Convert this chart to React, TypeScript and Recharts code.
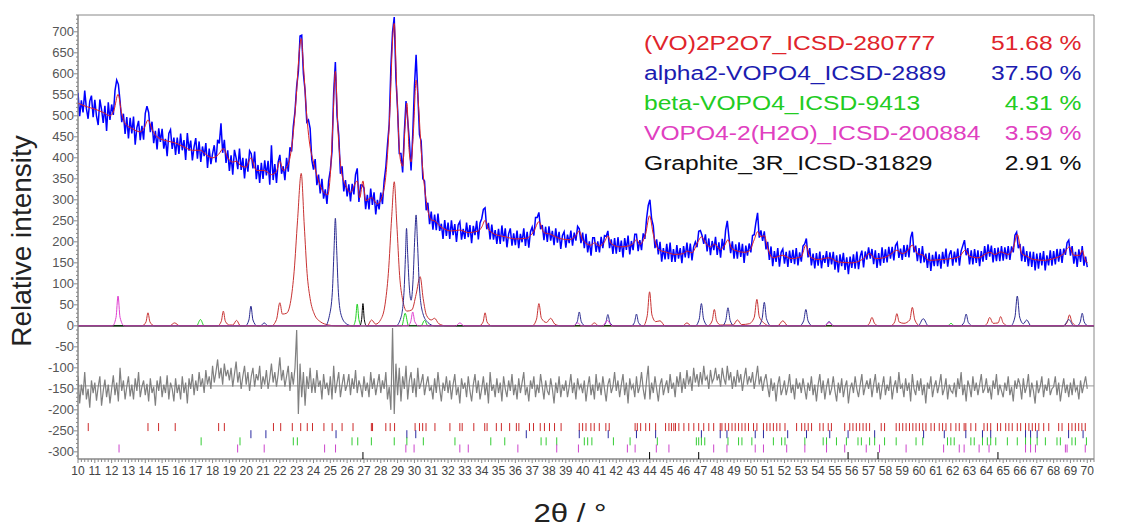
import React from "react";
import { ComposedChart, Line, Scatter, XAxis, YAxis, ReferenceLine, ReferenceArea } from "recharts";

// scan grid of the observed and difference arrays: 10° .. 70°, 0.1° step
const SCAN_START = 10;
const SCAN_STEP = 0.1;

// observed intensity, one row per degree (10.0 .. 10.9, 11.0 .. 11.9, ...)
const observed = [
  555, 499, 537, 508, 560, 517, 493, 535, 548, 497,
  538, 499, 478, 539, 515, 483, 524, 464, 532, 490,
  527, 502, 560, 585, 575, 535, 485, 505, 457, 497,
  446, 495, 458, 498, 431, 472, 488, 442, 476, 443,
  506, 523, 508, 461, 486, 435, 464, 420, 470, 438,
  469, 422, 445, 404, 458, 467, 421, 448, 407, 448,
  409, 458, 418, 442, 395, 459, 417, 441, 394, 426,
  447, 398, 439, 390, 427, 404, 435, 376, 422, 385,
  410, 430, 389, 443, 434, 482, 412, 443, 388, 418,
  369, 406, 360, 419, 400, 373, 422, 371, 400, 351,
  398, 367, 417, 410, 375, 415, 349, 383, 340, 388,
  350, 394, 358, 393, 336, 430, 347, 385, 340, 390,
  407, 362, 380, 347, 400, 367, 425, 415, 475, 510,
  570, 605, 690, 692, 600, 560, 485, 490, 470, 395,
  372, 397, 335, 360, 315, 350, 303, 325, 290, 345,
  370, 415, 555, 628, 500, 455, 362, 380, 320, 347,
  308, 337, 296, 338, 313, 360, 375, 295, 335, 335,
  328, 278, 312, 277, 327, 288, 318, 265, 300, 277,
  317, 290, 345, 378, 432, 480, 615, 700, 735, 590,
  515, 410, 410, 365, 460, 535, 490, 440, 370, 455,
  570, 645, 555, 455, 440, 350, 345, 275, 293, 242,
  272, 229, 265, 228, 267, 226, 243, 207, 252, 214,
  246, 207, 251, 216, 242, 200, 240, 248, 205, 231,
  207, 246, 211, 240, 197, 238, 216, 250, 206, 245,
  255, 277, 281, 230, 245, 206, 241, 205, 228, 195,
  231, 195, 239, 201, 232, 187, 219, 232, 191, 220,
  192, 227, 185, 219, 199, 232, 190, 224, 186, 224,
  235, 215, 258, 258, 270, 230, 240, 204, 236, 200,
  237, 203, 226, 192, 232, 198, 224, 183, 215, 224,
  186, 217, 197, 227, 191, 222, 203, 237, 231, 197,
  222, 185, 219, 175, 201, 167, 210, 210, 176, 201,
  175, 212, 185, 215, 213, 226, 185, 206, 171, 209,
  172, 211, 176, 203, 163, 209, 181, 215, 170, 202,
  180, 218, 218, 178, 204, 180, 220, 207, 255, 287,
  300, 255, 238, 185, 206, 170, 200, 153, 185, 158,
  195, 159, 198, 152, 183, 152, 192, 160, 185, 149,
  190, 163, 198, 161, 196, 156, 188, 200, 187, 225,
  227, 215, 195, 218, 177, 208, 168, 202, 180, 212,
  169, 199, 162, 207, 180, 228, 250, 210, 173, 201,
  160, 194, 160, 199, 164, 195, 150, 191, 167, 196,
  175, 215, 217, 246, 269, 210, 227, 202, 225, 182,
  200, 157, 189, 142, 178, 152, 185, 141, 175, 183,
  148, 176, 140, 179, 150, 181, 147, 185, 144, 175,
  153, 190, 195, 208, 163, 185, 144, 172, 137, 173,
  143, 177, 137, 168, 150, 178, 140, 175, 146, 176,
  134, 168, 127, 170, 142, 174, 133, 163, 123, 165,
  138, 170, 136, 177, 135, 165, 179, 139, 177, 158,
  187, 160, 183, 147, 180, 138, 173, 143, 187, 150,
  182, 151, 188, 160, 188, 156, 191, 198, 162, 184,
  157, 192, 164, 193, 163, 210, 224, 175, 191, 154,
  185, 149, 190, 151, 172, 138, 174, 131, 169, 142,
  177, 142, 170, 136, 176, 148, 184, 141, 170, 180,
  143, 177, 151, 184, 143, 178, 191, 204, 168, 185,
  146, 180, 146, 183, 150, 180, 142, 178, 153, 190,
  157, 194, 165, 191, 151, 185, 154, 186, 154, 190,
  155, 187, 159, 190, 157, 189, 175, 216, 223, 185,
  195, 154, 189, 152, 178, 142, 177, 140, 176, 132,
  172, 136, 174, 144, 178, 132, 168, 144, 180, 143,
  178, 146, 183, 153, 183, 150, 184, 169, 198, 204,
  167, 190, 148, 176, 140, 182, 152, 190, 143, 165,
  140,
];

// difference curve (obs - calc, shifted down), same grid
const difference = [
  -120, -185, -140, -165, -110, -175, -150, -195, -130, -160,
  -135, -178, -145, -120, -190, -155, -128, -170, -140, -185,
  -150, -118, -165, -135, -180, -100, -155, -130, -175, -145,
  -120, -168, -140, -175, -125, -155, -110, -170, -145, -130,
  -165, -138, -180, -125, -160, -145, -190, -130, -155, -120,
  -170, -140, -160, -118, -175, -135, -150, -180, -125, -160,
  -140, -175, -120, -160, -135, -185, -125, -150, -115, -165,
  -130, -155, -110, -145, -125, -160, -105, -140, -120, -150,
  -95, -135, -110, -80, -125, -100, -140, -90, -120, -105,
  -130, -100, -145, -115, -85, -135, -110, -150, -120, -95,
  -140, -110, -155, -120, -100, -145, -115, -130, -95, -150,
  -120, -140, -105, -150, -125, -90, -135, -110, -145, -115,
  -75, -130, -105, -145, -120, -95, -155, -110, -140, -100,
  -10, -210, -90, -170, -110, -190, -120, -150, -100, -160,
  -125, -160, -105, -145, -130, -175, -115, -150, -135, -165,
  -120, -175, -95, -160, -135, -110, -170, -140, -115, -155,
  -140, -115, -165, -125, -150, -105, -160, -130, -145, -170,
  -120, -155, -135, -170, -110, -150, -125, -165, -140, -115,
  -160, -130, -150, -110, -175, -145, -200, -5, -210, -90,
  -165, -100, -180, -120, -150, -95, -175, -130, -110, -160,
  -125, -170, -100, -150, -135, -115, -165, -140, -120, -155,
  -145, -175, -125, -160, -110, -150, -180, -135, -155, -120,
  -160, -130, -175, -140, -115, -165, -145, -185, -125, -150,
  -135, -170, -120, -155, -180, -140, -115, -160, -130, -175,
  -150, -120, -165, -135, -185, -110, -155, -140, -170, -125,
  -160, -135, -180, -120, -150, -170, -130, -155, -115, -165,
  -140, -175, -125, -160, -135, -110, -165, -145, -180, -130,
  -150, -120, -170, -140, -160, -115, -145, -175, -130, -155,
  -165, -125, -150, -185, -135, -160, -120, -170, -140, -155,
  -130, -170, -145, -115, -160, -135, -175, -125, -150, -140,
  -160, -130, -180, -145, -120, -165, -140, -175, -115, -155,
  -135, -165, -120, -150, -180, -140, -125, -160, -145, -110,
  -155, -130, -170, -140, -115, -165, -135, -185, -125, -150,
  -140, -170, -120, -160, -145, -110, -150, -175, -130, -95,
  -175, -135, -160, -120, -150, -180, -140, -125, -165, -145,
  -130, -160, -115, -150, -135, -170, -120, -145, -110, -160,
  -125, -150, -105, -140, -120, -155, -100, -135, -115, -145,
  -110, -140, -95, -130, -120, -150, -105, -135, -125, -100,
  -130, -115, -145, -100, -125, -140, -95, -130, -110, -150,
  -120, -145, -105, -135, -115, -155, -125, -100, -140, -120,
  -135, -110, -150, -125, -95, -140, -120, -155, -130, -115,
  -145, -170, -125, -155, -135, -180, -140, -120, -165, -150,
  -130, -165, -145, -115, -160, -140, -175, -125, -150, -135,
  -160, -125, -150, -175, -135, -155, -120, -165, -140, -180,
  -140, -115, -160, -130, -175, -145, -125, -165, -150, -120,
  -155, -180, -135, -160, -125, -170, -145, -130, -185, -150,
  -135, -160, -120, -150, -170, -140, -115, -165, -145, -130,
  -150, -125, -170, -140, -115, -160, -135, -175, -145, -120,
  -165, -140, -155, -120, -175, -145, -130, -160, -110, -150,
  -140, -170, -125, -155, -135, -180, -115, -150, -165, -130,
  -155, -125, -165, -140, -185, -135, -150, -120, -170, -145,
  -130, -160, -140, -115, -165, -150, -125, -175, -140, -155,
  -160, -135, -170, -125, -150, -110, -165, -140, -180, -130,
  -145, -170, -120, -155, -135, -165, -140, -115, -160, -150,
  -125, -160, -145, -175, -130, -150, -115, -165, -140, -155,
  -170, -135, -155, -120, -165, -145, -180, -130, -150, -125,
  -140, -175, -125, -160, -145, -115, -170, -135, -155, -185,
  -130, -160, -145, -120, -170, -140, -155, -125, -165, -150,
  -145, -120, -165, -135, -180, -150, -125, -160, -140, -170,
  -135, -165, -125, -155, -145, -175, -130, -160, -140, -120,
  -150,
];

// calculated profile [2theta, intensity]
const calculated: [number, number][] = [
  [10, 530], [10.5, 522], [11, 516], [11.5, 508], [11.9, 500], [12.15, 515], [12.38, 551], [12.6, 505],
  [12.8, 482], [13.2, 470], [13.7, 462], [13.95, 472], [14.16, 490], [14.4, 468], [14.7, 450], [15.3, 440],
  [15.74, 436], [16.2, 428], [16.8, 418], [17.28, 418], [17.6, 408], [18, 400], [18.35, 408], [18.64, 422],
  [18.9, 400], [19.2, 390], [19.43, 392], [19.7, 380], [20, 378], [20.28, 400], [20.6, 370], [21.07, 370],
  [21.5, 360], [21.8, 368], [22, 392], [22.2, 370], [22.5, 385], [22.8, 460], [23, 560], [23.15, 650],
  [23.27, 684], [23.4, 620], [23.6, 500], [23.75, 440], [24, 390], [24.3, 345], [24.6, 318], [24.85, 312],
  [25, 360], [25.15, 480], [25.3, 606], [25.45, 470], [25.65, 370], [25.9, 335], [26.2, 318], [26.6, 345],
  [26.75, 305], [26.94, 345], [27.1, 298], [27.45, 305], [27.8, 290], [28.1, 310], [28.35, 380], [28.55, 520],
  [28.7, 680], [28.8, 720], [28.95, 560], [29.15, 400], [29.3, 380], [29.45, 480], [29.55, 530], [29.68, 420],
  [29.8, 390], [29.95, 470], [30.1, 585], [30.25, 520], [30.4, 420], [30.6, 330], [30.8, 275], [31, 252],
  [31.2, 250], [31.5, 238], [31.8, 230], [32.2, 226], [32.7, 228], [33.2, 222], [33.8, 226], [34, 235],
  [34.2, 251], [34.4, 230], [34.8, 218], [35.4, 212], [36, 207], [36.6, 208], [37.1, 225], [37.4, 248],
  [37.7, 222], [38.1, 218], [38.5, 210], [39.2, 205], [39.6, 215], [39.8, 226], [40, 204], [40.5, 192],
  [40.7, 198], [41, 190], [41.3, 200], [41.5, 214], [41.7, 196], [42.2, 188], [42.7, 190], [43.05, 198],
  [43.2, 206], [43.4, 194], [43.75, 220], [43.98, 262], [44.2, 218], [44.5, 182], [45, 175], [45.5, 170],
  [46, 172], [46.2, 178], [46.5, 174], [46.85, 200], [47.06, 212], [47.35, 195], [47.6, 188], [47.83, 195],
  [48.2, 182], [48.45, 192], [48.64, 205], [48.85, 185], [49.2, 178], [49.6, 175], [49.9, 178], [50.2, 205],
  [50.4, 224], [50.6, 212], [50.8, 215], [51, 185], [51.3, 162], [51.9, 168], [52.4, 160], [53, 165],
  [53.27, 192], [53.5, 165], [54, 158], [54.65, 162], [55.2, 152], [56, 150], [56.7, 160], [57.05, 172],
  [57.4, 160], [57.9, 162], [58.3, 170], [58.68, 180], [59, 172], [59.3, 178], [59.6, 192], [59.9, 172],
  [60.25, 168], [60.6, 156], [61.4, 158], [61.9, 160], [62.4, 165], [62.75, 180], [63, 166], [63.5, 162],
  [64.2, 175], [64.5, 170], [64.85, 176], [65.3, 170], [65.6, 185], [65.84, 218], [66.1, 172], [66.4, 166],
  [66.8, 158], [67.4, 156], [68, 160], [68.6, 172], [68.94, 188], [69.2, 168], [69.55, 168], [69.7, 180],
  [69.85, 160], [70, 150],
];

// individual phase contributions [2theta, intensity]
const phaseVO2P2O7: [number, number][] = [
  [10, 0], [13.8, 0], [14.04, 9], [14.16, 31], [14.28, 9], [14.55, 0], [15.45, 0], [15.74, 7], [16.05, 0],
  [18.3, 0], [18.52, 11], [18.64, 35], [18.76, 11], [19, 2], [19.2, 2], [19.43, 13], [19.65, 0],
  [21.5, 0], [21.8, 15], [22, 55], [22.15, 28], [22.4, 30], [22.65, 60], [22.85, 130], [23.05, 250],
  [23.27, 363], [23.45, 240], [23.62, 125], [23.8, 65], [24.05, 28], [24.4, 10], [24.9, 2], [25.3, 0],
  [27.2, 0], [27.45, 14], [27.7, 4], [28, 15], [28.25, 50], [28.45, 125], [28.65, 260], [28.8, 343],
  [28.95, 245], [29.12, 120], [29.3, 62], [29.55, 35], [29.85, 38], [30.1, 75], [30.34, 117], [30.52, 65],
  [30.72, 25], [31, 14], [31.2, 18], [31.45, 5], [31.9, 0],
  [33.85, 0], [34.08, 9], [34.2, 31], [34.32, 9], [34.6, 0],
  [37, 0], [37.26, 16], [37.4, 53], [37.55, 18], [37.85, 8], [38.1, 18], [38.35, 4], [38.7, 0],
  [40.45, 0], [40.7, 7], [40.95, 0],
  [43.6, 0], [43.84, 24], [43.98, 81], [44.12, 26], [44.35, 10], [44.6, 12], [44.9, 0],
  [45.95, 0], [46.2, 7], [46.45, 0],
  [47.45, 0], [47.7, 12], [47.83, 39], [47.96, 12], [48.2, 2],
  [48.95, 2], [49.2, 14], [49.45, 3], [49.9, 5], [50.2, 20], [50.36, 63], [50.5, 22], [50.8, 6], [51.1, 0],
  [51.6, 0], [51.9, 12], [52.2, 0],
  [56.85, 0], [57.05, 6], [57.2, 20], [57.35, 6], [57.6, 0],
  [58.3, 0], [58.55, 9], [58.68, 29], [58.82, 9], [59.1, 6], [59.45, 14], [59.6, 44], [59.75, 14], [60.05, 0],
  [63.85, 0], [64.05, 6], [64.2, 20], [64.4, 6], [64.7, 7], [64.85, 22], [65, 7], [65.3, 0],
  [68.55, 0], [68.8, 8], [68.94, 26], [69.1, 8], [69.4, 0], [70.4, 0],
];

const phaseAlpha2: [number, number][] = [
  [10, 0], [19.95, 0], [20.16, 14], [20.28, 47], [20.4, 14], [20.65, 0], [20.85, 0], [21.07, 7], [21.3, 0],
  [24.7, 0], [24.95, 25], [25.12, 80], [25.22, 180], [25.3, 256], [25.38, 180], [25.48, 80], [25.65, 25],
  [25.95, 5], [26.3, 0],
  [28.9, 0], [29.2, 20], [29.38, 80], [29.47, 170], [29.53, 232], [29.6, 170], [29.7, 90], [29.8, 61],
  [29.92, 110], [30.02, 210], [30.1, 264], [30.18, 200], [30.3, 90], [30.5, 30], [30.8, 8], [31.2, 0],
  [39.45, 0], [39.68, 10], [39.8, 33], [39.92, 10], [40.15, 0],
  [41.2, 0], [41.38, 8], [41.5, 27], [41.62, 8], [41.85, 0],
  [42.9, 0], [43.08, 8], [43.2, 28], [43.32, 8], [43.55, 0],
  [46.7, 0], [46.93, 16], [47.06, 53], [47.19, 16], [47.45, 0],
  [48.3, 0], [48.51, 13], [48.64, 43], [48.77, 13], [49, 0],
  [50.45, 0], [50.67, 17], [50.8, 56], [50.93, 17], [51.2, 0],
  [52.9, 0], [53.14, 12], [53.27, 39], [53.4, 12], [53.65, 0],
  [54.4, 0], [54.65, 10], [54.9, 0],
  [59.95, 0], [60.25, 17], [60.55, 0],
  [62.45, 0], [62.67, 8], [62.8, 28], [62.93, 8], [63.2, 0],
  [65.45, 0], [65.7, 21], [65.84, 71], [65.98, 21], [66.2, 5], [66.4, 14], [66.65, 0],
  [68.6, 0], [68.9, 15], [69.2, 0],
  [69.4, 0], [69.58, 9], [69.7, 30], [69.82, 9], [70.05, 0], [70.4, 0],
];

const phaseBeta: [number, number][] = [
  [10, 0], [17.05, 0], [17.28, 15], [17.5, 0],
  [26.35, 0], [26.5, 15], [26.6, 52], [26.7, 15], [26.85, 0],
  [29.25, 0], [29.45, 30], [29.65, 0],
  [30.4, 0], [30.6, 13], [30.8, 0],
  [61.7, 0], [61.9, 6], [62.1, 0], [70.4, 0],
];

const phaseDihydrate: [number, number][] = [
  [10, 0], [12.05, 0], [12.26, 20], [12.38, 71], [12.5, 20], [12.75, 0],
  [29.6, 0], [29.78, 10], [29.9, 33], [30.02, 10], [30.25, 0],
  [32.45, 0], [32.7, 7], [32.95, 0],
  [39.45, 0], [39.7, 7], [39.95, 0],
  [41.2, 0], [41.47, 13], [41.75, 0],
  [54.4, 0], [54.65, 8], [54.9, 0], [70.4, 0],
];

const phaseGraphite: [number, number][] = [
  [10, 0], [26.75, 0], [26.86, 15], [26.94, 53], [27.02, 15], [27.15, 0], [70.4, 0],
];

// reflection positions (2theta) for each phase
const reflVO2P2O7 = [
  10.61, 14.16, 14.79, 15.78, 18.36, 18.7, 21.62, 22.05, 22.74, 23.24, 23.63, 23.94, 24.62, 25.11, 25.7,
  26.35, 27.44, 27.51, 28.3, 28.56, 28.82, 30.04, 30.3, 30.49, 30.69, 31.22, 32.11, 32.7, 32.84, 33.53,
  34.18, 34.32, 34.87, 35.17, 35.66, 36.06, 36.21, 36.84, 37.08, 37.48, 37.73, 38.03, 38.33, 38.72, 39.8,
  40.0, 40.2, 40.49, 40.69, 40.99, 41.38, 41.58, 43.12, 43.25, 43.45, 43.75, 43.98, 44.34, 44.93, 45.13,
  45.28, 45.42, 45.52, 45.72, 46.02, 46.31, 46.61, 46.9, 47.2, 47.5, 47.79, 48.18, 48.28, 48.48, 48.68,
  48.88, 49.07, 49.27, 49.47, 49.66, 49.86, 50.16, 50.36, 50.75, 50.95, 51.14, 51.34, 51.54, 51.73, 52.03,
  52.72, 53.02, 53.21, 53.41, 53.61, 54.1, 54.3, 54.6, 54.79, 55.58, 55.88, 56.07, 56.27, 56.47, 56.67,
  56.86, 57.06, 57.75, 57.95, 58.64, 58.83, 59.03, 59.23, 59.43, 59.63, 59.82, 60.02, 60.22, 60.41, 60.71,
  60.91, 61.2, 61.4, 61.6, 61.89, 62.19, 62.39, 62.68, 62.78, 63.08, 63.37, 63.86, 64.06, 64.26, 64.66,
  64.85, 65.15, 65.34, 65.54, 65.84, 66.04, 66.33, 66.53, 66.73, 66.92, 67.12, 67.41, 67.71, 68.3, 68.5,
  68.89, 69.09, 69.29, 69.49, 69.68, 69.88,
];
const reflAlpha2 = [
  20.28, 21.17, 25.34, 29.55, 30.08, 36.65, 39.8, 41.52, 43.2, 44.34, 47.06, 48.18, 48.58, 50.26, 50.75,
  52.19, 53.31, 54.69, 55.78, 57.36, 60.27, 61.5, 62.78, 63.77, 64.26, 66.33, 66.63, 67.02, 68.89, 69.75,
];
const reflBeta = [
  17.32, 19.63, 22.8, 23.04, 26.29, 26.63, 27.44, 28.8, 29.55, 30.53, 32.41, 34.54, 35.37, 37.53, 37.83,
  38.46, 40.1, 40.3, 40.55, 41.83, 42.82, 44.44, 46.76, 46.9, 47.06, 47.26, 48.64, 49.27, 49.47, 50.06,
  51.34, 51.83, 52.03, 53.21, 54.3, 54.5, 55.09, 55.68, 56.37, 56.57, 57.06, 57.36, 57.95, 58.64, 59.82,
  60.22, 61.69, 61.89, 62.09, 63.08, 63.28, 63.77, 64.06, 64.26, 64.56, 65.25, 65.84, 66.33, 66.63, 67.02,
  67.51, 68.2, 68.4, 69.09, 69.29, 69.95,
];
const reflDihydrate = [
  12.44, 19.49, 21.07, 24.66, 25.31, 29.49, 29.98, 32.7, 33.2, 36.15, 38.46, 39.75, 42.66, 43.12, 44.38,
  45.13, 47.79, 48.58, 50.26, 50.75, 52.13, 53.21, 54.5, 55.58, 56.86, 57.65, 59.23, 61.46, 62.39, 62.68,
  63.57, 64.16, 66.33, 66.63, 66.92, 68.7, 68.8, 69.88,
];
const reflGraphite = [26.94, 43.98, 46.9, 55.78, 57.56, 64.69];

// intensity level of each reflection row
const reflLevels = [-241, -258, -275, -292, -310];

const phaseNames = [
  "(VO)2P2O7_ICSD-280777",
  "alpha2-VOPO4_ICSD-2889",
  "beta-VOPO4_ICSD-9413",
  "VOPO4-2(H2O)_ICSD-200884",
  "Graphite_3R_ICSD-31829",
];
const phaseShares = ["51.68 %", "37.50 %", "4.31 %", "3.59 %", "2.91 %"];
const legendColors = ["#e0242b", "#1c1cb0", "#22cc22", "#e040c0", "#111111"];

const xLabels = [
  10, 11, 12, 13, 14, 15, 16, 17, 18, 19, 20, 21, 22, 23, 24, 25, 26, 27, 28, 29, 30, 31, 32, 33, 34, 35, 36,
  37, 38, 39, 40, 41, 42, 43, 44, 45, 46, 47, 48, 49, 50, 51, 52, 53, 54, 55, 56, 57, 58, 59, 60, 61, 62, 63,
  64, 65, 66, 67, 68, 69, 70,
];
const yLabels = [-300, -250, -200, -150, -100, -50, 0, 50, 100, 150, 200, 250, 300, 350, 400, 450, 500, 550, 600, 650, 700];

const X_DOMAIN: [number, number] = [10, 70.4];
const Y_DOMAIN: [number, number] = [-317, 740];
const FONT = "'Liberation Sans', Arial, sans-serif";

const toPoints = (pairs: [number, number][]) => pairs.map(([x, y]) => ({ x, y }));
const scanPoints = (vals: number[]) =>
  vals.map((y, i) => ({ x: Math.round((SCAN_START + i * SCAN_STEP) * 100) / 100, y }));

const obsData = scanPoints(observed);
const diffData = scanPoints(difference);
const calcData = toPoints(calculated);

// minor tick positions (decoration only)
const xMinor: number[] = [];
for (let v = 100; v <= 704; v += 2) xMinor.push(v / 10);
const yMinor: number[] = [];
for (let v = -310; v <= 740; v += 10) yMinor.push(v);

function XTick(props: any) {
  const { x, y, payload } = props;
  const v = payload.value as number;
  const isLabel = xLabels.some((l) => Math.abs(l - v) < 1e-6);
  return (
    <g>
      <line x1={x} x2={x} y1={y} y2={y + (isLabel ? 4 : 3)} stroke="#888" />
      {isLabel && (
        <text x={x} y={y + 16} textAnchor="middle" fontSize={12} fontFamily={FONT} fill="#444">
          {v}
        </text>
      )}
    </g>
  );
}

function YTick(props: any) {
  const { x, y, payload } = props;
  const v = payload.value as number;
  const isLabel = yLabels.includes(v);
  return (
    <g>
      <line x1={x - (isLabel ? 4 : 2)} x2={x} y1={y} y2={y} stroke="#888" />
      {isLabel && (
        <text x={x - 4} y={y + 4.5} textAnchor="end" fontSize={13} fontFamily={FONT} fill="#555">
          {v}
        </text>
      )}
    </g>
  );
}

const reflShape = (color: string) => (p: any) =>
  <line x1={p.cx} x2={p.cx} y1={p.cy - 4} y2={p.cy + 4} stroke={color} strokeWidth={1} />;

const reflRows = [
  { pos: reflVO2P2O7, color: "#cc2a2a" },
  { pos: reflAlpha2, color: "#2a2aa0" },
  { pos: reflBeta, color: "#33cc33" },
  { pos: reflDihydrate, color: "#cc44cc" },
  { pos: reflGraphite, color: "#000000" },
];

const phaseLines = [
  { data: phaseVO2P2O7, color: "#c83232" },
  { data: phaseAlpha2, color: "#2a2a90" },
  { data: phaseBeta, color: "#22d022" },
  { data: phaseGraphite, color: "#000000" },
  { data: phaseDihydrate, color: "#e040d0" },
];

export default function App() {
  return (
    <div style={{ position: "relative", width: 1110, height: 519, fontFamily: FONT }}>
      <ComposedChart width={1110} height={519} margin={{ top: 7, right: 24, bottom: 38, left: 0 }}>
        <XAxis
          dataKey="x"
          type="number"
          domain={X_DOMAIN}
          allowDataOverflow
          ticks={xMinor}
          interval={0}
          tick={<XTick />}
          tickLine={false}
          tickSize={0}
          tickMargin={0}
          height={30}
          stroke="#888"
        />
        <YAxis
          type="number"
          domain={Y_DOMAIN}
          allowDataOverflow
          ticks={yMinor}
          interval={0}
          tick={<YTick />}
          tickLine={false}
          tickSize={0}
          tickMargin={0}
          width={70}
          stroke="#888"
        />
        <ReferenceArea
          x1={X_DOMAIN[0]}
          x2={X_DOMAIN[1]}
          y1={Y_DOMAIN[0]}
          y2={Y_DOMAIN[1]}
          fill="none"
          stroke="#888"
          ifOverflow="visible"
        />
        <ReferenceLine y={-143} stroke="#999" strokeWidth={1} />
        <Line data={diffData} dataKey="y" stroke="#808080" strokeWidth={1.2} dot={false} type="linear" isAnimationActive={false} />
        <Line data={obsData} dataKey="y" stroke="#0000ff" strokeWidth={1.5} dot={false} type="linear" isAnimationActive={false} />
        <Line data={calcData} dataKey="y" stroke="#dd2222" strokeWidth={1} dot={false} type="monotone" isAnimationActive={false} />
        {phaseLines.map((p, i) => (
          <Line
            key={"ph" + i}
            data={toPoints(p.data)}
            dataKey="y"
            stroke={p.color}
            strokeWidth={1}
            dot={false}
            type="monotone"
            isAnimationActive={false}
          />
        ))}
        {reflRows.map((r, i) => (
          <Scatter
            key={"rf" + i}
            data={r.pos.map((x) => ({ x, y: reflLevels[i] }))}
            dataKey="y"
            shape={reflShape(r.color)}
            isAnimationActive={false}
          />
        ))}
      </ComposedChart>

      {phaseNames.map((name, i) => (
        <div
          key={name}
          style={{ position: "absolute", left: 0, right: 0, top: 20 + i * 30, height: 30, lineHeight: "30px", fontSize: 20, color: legendColors[i] }}
        >
          <span style={{ position: "absolute", left: 636, whiteSpace: "nowrap", transform: "scaleX(1.23)", transformOrigin: "left center" }}>
            {name}
          </span>
          <span style={{ position: "absolute", right: 37, whiteSpace: "nowrap", transform: "scaleX(1.23)", transformOrigin: "right center" }}>
            {phaseShares[i]}
          </span>
        </div>
      ))}

      <div
        style={{
          position: "absolute",
          left: 14,
          top: 233,
          transform: "translate(-50%, -50%) rotate(-90deg)",
          fontSize: 28,
          whiteSpace: "nowrap",
          color: "#222",
        }}
      >
        Relative intensity
      </div>
      <div
        style={{
          position: "absolute",
          left: 562,
          top: 505,
          transform: "translate(-50%, -50%) scaleX(1.2)",
          fontSize: 26,
          whiteSpace: "nowrap",
          color: "#222",
        }}
      >
        2θ / °
      </div>
    </div>
  );
}
